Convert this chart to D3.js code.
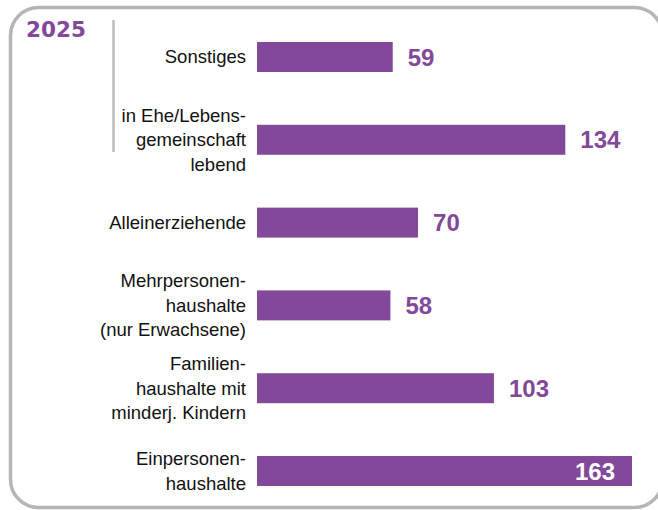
<!DOCTYPE html>
<html>
<head>
<meta charset="utf-8">
<script src="https://cdn.jsdelivr.net/npm/d3@7"></script>
<style>
  body { margin: 0; background: #fff; }
  svg { display: block; }
</style>
</head>
<body>
<div id="chart"></div>
<script>
// categories top to bottom, "|" marks a line break in the label
const categories = [
    "Sonstiges",
    "in Ehe/Lebens-|gemeinschaft|lebend",
    "Alleinerziehende",
    "Mehrpersonen-|haushalte|(nur Erwachsene)",
    "Familien-|haushalte mit|minderj. Kindern",
    "Einpersonen-|haushalte"
];
const values = [59, 134, 70, 58, 103, 163];
const yearLabel = "2025";

const width = 658;
const height = 510;
const purple = "#82489a";

const data = categories.map((c, i) => ({ label: c, value: values[i] }));

const svg = d3.select("#chart")
    .append("svg")
    .attr("width", width)
    .attr("height", height);

// rounded frame, right side runs off the page
svg.append("rect")
    .attr("x", 10.5)
    .attr("y", 7.5)
    .attr("width", 652)
    .attr("height", 500)
    .attr("rx", 28)
    .attr("fill", "none")
    .attr("stroke", "#b5b5b5")
    .attr("stroke-width", 3.5);

// year title
svg.append("text")
    .attr("x", 26)
    .attr("y", 37)
    .attr("fill", purple)
    .style("font-family", "'DejaVu Sans', sans-serif")
    .style("font-weight", "bold")
    .style("font-size", "21.5px")
    .text(yearLabel);

// small grey divider
svg.append("line")
    .attr("x1", 113.5).attr("x2", 113.5)
    .attr("y1", 20).attr("y2", 152)
    .attr("stroke", "#bdbdbd")
    .attr("stroke-width", 2.5);

// scales
const x = d3.scaleLinear()
    .domain([0, d3.max(values)])
    .range([257, 632]);

const y = d3.scaleBand()
    .domain(categories)
    .range([42, 486])
    .paddingInner(0.638)
    .paddingOuter(0);

// bars
svg.selectAll("rect.bar")
    .data(data)
    .enter()
    .append("rect")
    .attr("class", "bar")
    .attr("x", x(0))
    .attr("y", d => y(d.label))
    .attr("width", d => x(d.value) - x(0))
    .attr("height", y.bandwidth())
    .attr("fill", purple);

// category labels (multi-line, right aligned, centred on bar)
const lineH = 24.5;
const labels = svg.selectAll("text.cat")
    .data(data)
    .enter()
    .append("text")
    .attr("class", "cat")
    .attr("text-anchor", "end")
    .attr("fill", "#111")
    .style("font-family", "'Liberation Sans', Arial, sans-serif")
    .style("font-size", "18.5px");

labels.each(function(d) {
    const lines = d.label.split("|");
    const cy = y(d.label) + y.bandwidth() / 2;
    const y0 = cy - (lines.length - 1) / 2 * lineH;
    d3.select(this).selectAll("tspan")
        .data(lines)
        .enter()
        .append("tspan")
        .attr("x", 246)
        .attr("y", (l, i) => y0 + i * lineH)
        .attr("dy", "0.35em")
        .text(l => l);
});

// value labels, largest one sits inside its bar
const maxVal = d3.max(values);
svg.selectAll("text.val")
    .data(data)
    .enter()
    .append("text")
    .attr("class", "val")
    .attr("x", d => d.value === maxVal ? x(d.value) - 17 : x(d.value) + 15)
    .attr("y", d => y(d.label) + y.bandwidth() / 2)
    .attr("dy", "0.36em")
    .attr("text-anchor", d => d.value === maxVal ? "end" : "start")
    .attr("fill", d => d.value === maxVal ? "#fff" : purple)
    .style("font-family", "'Liberation Sans', Arial, sans-serif")
    .style("font-weight", "bold")
    .style("font-size", "24px")
    .text(d => d.value);
</script>
</body>
</html>
